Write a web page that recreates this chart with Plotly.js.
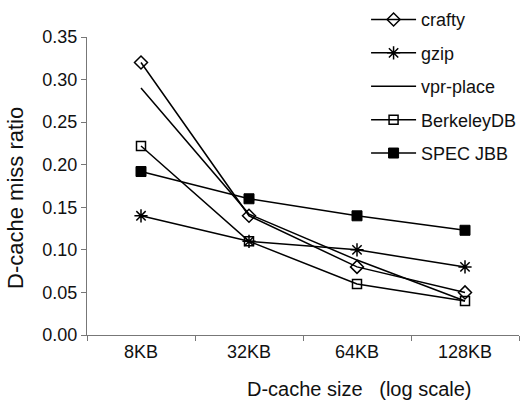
<!DOCTYPE html>
<html>
<head>
<meta charset="utf-8">
<script src="https://cdn.plot.ly/plotly-3.0.1.min.js"></script>
<style>html,body{margin:0;padding:0;background:#fff;}#chart{width:521px;height:400px;}</style>
</head>
<body>
<div id="chart"></div>
<script>
const categories = ["8KB", "32KB", "64KB", "128KB"];
const crafty = [0.32, 0.14, 0.08, 0.05];
const gzip = [0.14, 0.11, 0.10, 0.08];
const vprPlace = [0.29, 0.142, 0.088, 0.04];
const berkeleyDB = [0.222, 0.11, 0.06, 0.04];
const specJBB = [0.192, 0.16, 0.14, 0.123];
const seriesNames = ["crafty", "gzip", "vpr-place", "BerkeleyDB", "SPEC JBB"];

const FONT = "Liberation Sans, Arial, sans-serif";
const lineStyle = {color: "#000", width: 1.5};

const specs = [
  {y: crafty, mode: "lines+markers", marker: {symbol: "diamond-open", size: 10, color: "#000", line: {width: 1.5, color: "#000"}}},
  {y: gzip, mode: "lines+markers", marker: {symbol: "asterisk-open", size: 11, color: "#000", line: {width: 1.5, color: "#000"}}},
  {y: vprPlace, mode: "lines"},
  {y: berkeleyDB, mode: "lines+markers", marker: {symbol: "square-open", size: 9, color: "#000", line: {width: 1.5, color: "#000"}}},
  {y: specJBB, mode: "lines+markers", marker: {symbol: "square", size: 10, color: "#000", line: {width: 1, color: "#000"}}}
];

const traces = specs.map((s, i) => Object.assign({
  x: categories,
  type: "scatter",
  name: seriesNames[i],
  legendgroup: "g" + i,
  line: lineStyle,
  cliponaxis: false
}, s));

const layout = {
  width: 521, height: 400,
  margin: {l: 87, r: 2, t: 37, b: 65, autoexpand: false},
  paper_bgcolor: "#fff", plot_bgcolor: "#fff",
  font: {family: FONT, size: 17, color: "#111"},
  showlegend: true,
  legend: {
    x: 0.646, y: 1.12, xanchor: "left", yanchor: "top",
    bgcolor: "rgba(0,0,0,0)",
    font: {family: FONT, size: 18, color: "#111"},
    tracegroupgap: 7,
    itemwidth: 45
  },
  xaxis: {
    type: "category",
    range: [-0.5, 3.5],
    showgrid: false, zeroline: false,
    showline: true, linecolor: "#777", linewidth: 1,
    ticks: "outside", tickson: "boundaries", ticklen: 5, tickcolor: "#777",
    tickfont: {family: FONT, size: 18, color: "#111"},
    fixedrange: true
  },
  yaxis: {
    range: [0, 0.35],
    dtick: 0.05, tickformat: ".2f",
    showgrid: false, zeroline: false,
    showline: true, linecolor: "#777", linewidth: 1,
    ticks: "outside", ticklen: 5, tickcolor: "#777",
    tickfont: {family: FONT, size: 18, color: "#111"},
    fixedrange: true
  },
  annotations: [{
    text: "D-cache size&nbsp;&nbsp;&nbsp;(log scale)",
    xref: "paper", yref: "paper", x: 0.63, y: 0,
    xanchor: "center", yanchor: "middle", yshift: -54,
    showarrow: false,
    font: {family: FONT, size: 20, color: "#111"}
  }, {
    text: "D-cache miss ratio",
    xref: "paper", yref: "paper", x: 0, y: 0.46,
    xanchor: "center", yanchor: "middle", xshift: -71,
    textangle: -90,
    showarrow: false,
    font: {family: FONT, size: 22, color: "#111"}
  }]
};

Plotly.newPlot("chart", traces, layout, {displayModeBar: false, staticPlot: true});
</script>
</body>
</html>
